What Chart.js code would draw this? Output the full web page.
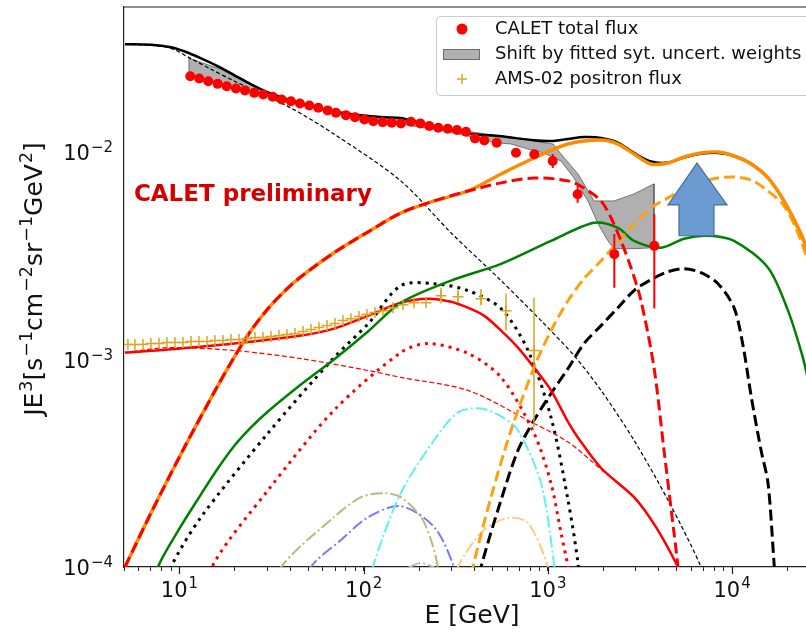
<!DOCTYPE html>
<html>
<head>
<meta charset="utf-8">
<script src="https://cdn.jsdelivr.net/npm/chart.js@4.4.1/dist/chart.umd.min.js"></script>
<style>
  html, body { margin: 0; padding: 0; background: #fff; overflow: hidden; }
  #wrap { width: 806px; height: 633px; overflow: hidden; }
  canvas { display: block; }
</style>
</head>
<body>
<div id="wrap"><canvas id="spectrum" width="830" height="633"></canvas></div>
<script>
// axis ranges and tick labels (base, exponent)
const xMin = 5, xMax = 3e4, yMin = 1e-4, yMax = 0.05;
const xMajorTicks = [10, 100, 1000, 10000];
const xMajorExp = ['1', '2', '3', '4'];
const yMajorTicks = [1e-4, 1e-3, 1e-2];
const yMajorExp = ['\u22124', '\u22123', '\u22122'];
const xTitle = 'E [GeV]';
// y title as [text, isSuperscript]
const yTitleParts = [['JE', 0], ['3', 1], ['[s', 0], ['\u22121', 1], ['cm', 0], ['\u22122', 1], ['sr', 0], ['\u22121', 1], ['GeV', 0], ['2', 1], [']', 0]];

// CALET total flux (E [GeV], E^3 J)
const calE = [11.45, 12.81, 14.33, 16.12, 18.04, 20.26, 22.68, 25.47, 28.50, 32.06, 35.87, 40.29, 45.10, 50.68, 56.70, 63.78,
  70.7, 80.1, 89.7, 100.8, 112.7, 126.8, 141.9, 159.4, 180.6, 202.9, 227.1, 254.1, 285.8, 321.0, 359.2, 401.9, 451.5,
  527.2, 671.2, 843.8, 1062, 1451, 2294, 3782];
const calJ = [0.02319, 0.02262, 0.02195, 0.02131, 0.02077, 0.02025, 0.01981, 0.01928, 0.01894, 0.01845, 0.01792, 0.01758, 0.01714, 0.01677, 0.01633, 0.01587,
  0.01545, 0.01506, 0.01473, 0.01436, 0.01409, 0.01394, 0.01383, 0.01374, 0.01398, 0.01374, 0.01334, 0.01309, 0.01294, 0.01276, 0.01252, 0.01164, 0.01138,
  0.01108, 0.00992, 0.00975, 0.00905, 0.00626, 0.00322, 0.00353];
const calErrE = [671.2, 843.8, 1062, 1451, 2294, 3782];
const calErrLo = [0.0095, 0.0093, 0.00838, 0.00569, 0.00222, 0.00176];
const calErrHi = [0.0104, 0.0102, 0.00978, 0.00686, 0.00403, 0.00503];

// AMS-02 positron flux
const amsE = [5.25, 5.73, 6.34, 7.00, 7.74, 8.55, 9.45, 10.45, 11.55, 12.76, 14.11, 15.58, 17.23, 19.04, 21.04, 23.26, 25.70, 28.40, 31.39, 34.69,
  38.33, 42.36, 46.83, 51.75, 57.19, 63.22, 69.86, 77.20, 85.34, 94.29, 104.2, 115.2, 127.3, 144.2, 163.5, 187.6, 217.9, 262.9, 325.1, 433.5, 592.3, 840.6];
const amsJ = [1.181e-3, 1.181e-3, 1.181e-3, 1.194e-3, 1.194e-3, 1.207e-3, 1.207e-3, 1.207e-3, 1.220e-3, 1.220e-3, 1.220e-3, 1.234e-3, 1.234e-3, 1.248e-3,
  1.248e-3, 1.262e-3, 1.276e-3, 1.276e-3, 1.290e-3, 1.304e-3, 1.319e-3, 1.334e-3, 1.364e-3, 1.394e-3, 1.425e-3, 1.457e-3, 1.490e-3, 1.540e-3,
  1.574e-3, 1.610e-3, 1.646e-3, 1.683e-3, 1.720e-3, 1.778e-3, 1.838e-3, 1.879e-3, 1.879e-3, 2.031e-3, 2.009e-3, 1.965e-3, 1.720e-3, 1.105e-3];
const amsErrE = [262.9, 325.1, 433.5, 592.3, 840.6];
const amsErrLo = [1.86e-3, 1.88e-3, 1.82e-3, 1.38e-3, 4.71e-4];
const amsErrHi = [2.22e-3, 2.19e-3, 2.19e-3, 2.08e-3, 1.99e-3];

// model curves, [E, E^3 J]
const totalModel = [[5.06, 0.0331], [7.0, 0.0329], [9.0, 0.0320], [10.6, 0.0306], [13.1, 0.0283], [16.2, 0.0259], [19.8, 0.0235], [24.5, 0.0212],
  [30.2, 0.0194], [36.9, 0.0182], [45.7, 0.0172], [56.5, 0.0163], [69.0, 0.0157], [85.3, 0.0152], [106, 0.0149], [129, 0.0147], [159, 0.0146],
  [241, 0.0133], [368, 0.0123], [557, 0.0119], [841, 0.0114], [1040, 0.0113], [1286, 0.01155], [1570, 0.0118], [1943, 0.0117], [2402, 0.0111],
  [2934, 0.0099], [3628, 0.0090], [4487, 0.0089], [5483, 0.0094], [6780, 0.0098], [8386, 0.0099], [10240, 0.0096], [12670, 0.0088],
  [15670, 0.0075], [19130, 0.0058], [23660, 0.0040], [28550, 0.0027]];
const orangeSolid = [[5.06, 1.0e-4], [7.0, 1.818e-4], [10.58, 3.734e-4], [16.18, 7.5e-4], [19.76, 1.022e-3], [24.45, 1.379e-3], [30.23, 1.758e-3],
  [36.93, 2.123e-3], [45.66, 2.506e-3], [69.0, 3.27e-3], [105.5, 4.12e-3], [159.4, 5.09e-3], [240.8, 5.81e-3], [368.4, 6.49e-3], [557, 7.84e-3],
  [841, 9.36e-3], [1286, 1.093e-2], [1943, 1.142e-2], [2402, 1.093e-2], [2934, 9.78e-3], [3628, 8.76e-3], [4487, 8.85e-3], [5483, 9.46e-3],
  [6780, 9.89e-3], [8386, 1.0e-2], [10240, 9.57e-3], [12670, 8.76e-3], [15670, 7.5e-3], [19130, 5.81e-3], [23660, 4.04e-3], [25510, 3.34e-3],
  [30380, 1.92e-3]];
const redDashed = [[5.06, 1.0e-4], [7.0, 1.818e-4], [10.58, 3.734e-4], [16.18, 7.5e-4], [19.76, 1.022e-3], [24.45, 1.379e-3], [30.23, 1.758e-3],
  [36.93, 2.123e-3], [45.66, 2.506e-3], [69.0, 3.27e-3], [105.5, 4.12e-3], [159.4, 5.09e-3], [240.8, 5.81e-3], [368.4, 6.49e-3], [557, 7.1e-3],
  [841, 7.5e-3], [1286, 7.26e-3], [1570, 6.71e-3], [1943, 5.81e-3], [2201, 4.82e-3], [2495, 3.73e-3], [2826, 2.77e-3], [3202, 1.92e-3],
  [3767, 9.15e-4], [4270, 3.65e-4], [4837, 1.46e-4], [5086, 1.0e-4], [5300, 7.0e-5]];
const orangeDashed = [[373, 7.75e-5], [392, 1.0e-4], [491, 2.17e-4], [631, 4.56e-4], [841, 9.15e-4], [1040, 1.379e-3], [1286, 1.92e-3],
  [1570, 2.452e-3], [1943, 2.99e-3], [2402, 3.69e-3], [2934, 4.51e-3], [3628, 5.38e-3], [4487, 6.01e-3], [5483, 6.64e-3], [6780, 7.17e-3],
  [8386, 7.5e-3], [10240, 7.58e-3], [12670, 7.33e-3], [14900, 6.71e-3], [19130, 5.5e-3], [23660, 3.73e-3], [28550, 2.15e-3]];
const greenSolid = [[7.27, 7.75e-5], [7.64, 1.0e-4], [9.81, 1.49e-4], [13.09, 2.24e-4], [16.18, 2.99e-4], [19.76, 3.82e-4], [24.45, 4.71e-4],
  [30.23, 5.62e-4], [45.66, 7.58e-4], [69.0, 1.0e-3], [105.5, 1.364e-3], [159.4, 1.879e-3], [298, 2.40e-3], [557, 2.89e-3], [1040, 3.73e-3],
  [1780, 4.56e-3], [2402, 4.31e-3], [2934, 3.73e-3], [4112, 3.46e-3], [5483, 3.82e-3], [7399, 3.95e-3], [10240, 3.73e-3], [15670, 2.77e-3],
  [20110, 1.72e-3], [23660, 1.1e-3], [25510, 8.4e-4], [28550, 5.1e-4]];
const thinBlackDashed = [[5.06, 0.0330], [7.0, 0.0327], [9.0, 0.0316], [11.55, 0.0282], [14.8, 0.0251], [19.8, 0.0220], [40.3, 0.0163],
  [69.0, 0.0122], [159, 7.26e-3], [298, 4.08e-3], [557, 2.40e-3], [918, 1.54e-3], [1386, 1.045e-3], [1943, 7.1e-4], [2934, 4.08e-4],
  [4487, 2.1e-4], [6780, 1.0e-4], [7685, 6.9e-5]];
const thinRedDashed = [[5.06, 1.08e-3], [8.66, 1.14e-3], [19.8, 1.105e-3], [45.7, 1.01e-3], [106, 8.85e-4], [159, 8.2e-4], [368, 7.1e-4],
  [780, 5.09e-4], [1286, 4.0e-4], [1943, 2.95e-4], [2934, 2.17e-4], [3863, 1.556e-4], [5086, 1.0e-4], [5500, 8.0e-5]];
const redSolid = [[5.06, 1.08e-3], [8.66, 1.117e-3], [19.8, 1.194e-3], [45.7, 1.304e-3], [69.0, 1.409e-3], [106, 1.627e-3], [159, 1.879e-3],
  [223, 1.965e-3], [298, 1.90e-3], [368, 1.778e-3], [450, 1.627e-3], [557, 1.379e-3], [688, 1.142e-3], [841, 9.15e-4], [1040, 7.1e-4],
  [1286, 5.0e-4], [1457, 4.2e-4], [1943, 3.0e-4], [2934, 2.17e-4], [3863, 1.556e-4], [5086, 1.0e-4], [5763, 7.75e-5]];
const redDotted = [[14.8, 7.75e-5], [15.4, 1.045e-4], [30.2, 2.34e-4], [69.0, 5.69e-4], [159, 1.08e-3], [223, 1.194e-3], [368, 1.07e-3],
  [557, 8.2e-4], [841, 4.41e-4], [1040, 2.53e-4], [1178, 1.46e-4], [1286, 1.0e-4], [1335, 7.75e-5]];
const blackDotted = [[8.66, 8.2e-5], [8.99, 1.0e-4], [13.1, 1.74e-4], [30.2, 4.41e-4], [69.0, 1.02e-3], [106, 1.49e-3], [159, 2.27e-3],
  [241, 2.32e-3], [368, 2.15e-3], [557, 1.758e-3], [780, 1.105e-3], [1040, 5.26e-4], [1286, 2.1e-4], [1457, 1.045e-4], [1490, 7.75e-5]];
const blackDashed = [[412, 7.75e-5], [433.5, 1.0e-4], [556.5, 2.10e-4], [688, 3.65e-4], [840.6, 5.09e-4], [1040, 6.86e-4], [1286, 9.05e-4],
  [1570, 1.194e-3], [1943, 1.457e-3], [2402, 1.778e-3], [2934, 2.15e-3], [3628, 2.425e-3], [4487, 2.65e-3], [5483, 2.74e-3], [6780, 2.62e-3],
  [8386, 2.32e-3], [10240, 1.778e-3], [11460, 1.167e-3], [12670, 6.71e-4], [14360, 3.65e-4], [15670, 2.53e-4], [16890, 1.045e-4], [17310, 7.75e-5]];
const cyanDashDot = [[108, 7.75e-5], [112, 1.0e-4], [159, 2.27e-4], [241, 4.08e-4], [325, 5.56e-4], [433.5, 5.81e-4], [557, 5.32e-4],
  [688, 4.56e-4], [918, 2.53e-4], [1079, 1.045e-4], [1107, 7.75e-5]];
const khakiDashDot = [[34.3, 7.75e-5], [35.6, 1.0e-4], [69.0, 1.74e-4], [96.7, 2.17e-4], [129, 2.27e-4], [159, 2.17e-4], [205, 1.74e-4],
  [232, 1.35e-4], [253, 1.0e-4], [262, 7.75e-5]];
const blueDashDot = [[50, 7.75e-5], [51.75, 1.0e-4], [75.3, 1.348e-4], [106, 1.74e-4], [159, 1.965e-4], [241, 1.56e-4], [309, 1.0e-4], [320, 7.75e-5]];
const peachDashDot = [[318, 7.75e-5], [325, 1.0e-4], [450, 1.51e-4], [607, 1.72e-4], [780, 1.63e-4], [1001, 1.0e-4], [1030, 7.75e-5]];
const greyDashDot = [[176, 1.0e-4], [205, 1.045e-4], [241, 1.0e-4]];

// systematic-shift band (upper edge left to right, lower edge right to left)
const bandUpper = [[11.26, 0.02831], [16.8, 0.02506], [24.45, 0.0210], [35.56, 0.01838], [51.75, 0.01683], [75.33, 0.01557], [159.4, 0.01441],
  [297.8, 0.0129], [556.5, 0.01194], [840.6, 0.01129], [1066, 0.01093], [1178, 0.00978], [1457, 0.00784], [1780, 0.00581], [2285, 0.00581],
  [2934, 0.00628], [3767, 0.00702]];
const bandLower = [[3767, 0.00346], [2934, 0.00342], [2285, 0.00342], [2120, 0.00373], [1871, 0.00451], [1651, 0.00581], [1386, 0.0075],
  [1178, 0.00905], [952, 0.00989], [779.8, 0.01034], [630.6, 0.01093], [527, 0.01108], [297.8, 0.01248], [159.4, 0.01363], [75.33, 0.01506],
  [51.75, 0.01646], [35.56, 0.01778], [24.45, 0.01965], [16.8, 0.02146], [11.26, 0.02345]];

// up arrow annotation, outline in data coordinates
const arrowShape = [[5149, 0.00395], [5149, 0.00556], [4487, 0.00556], [6448, 0.00885], [9382, 0.00556], [7975, 0.00556], [7975, 0.00395], [5149, 0.00395]];

const prelimText = 'CALET preliminary';
const prelimAt = [5.66, 0.00581];
const legendLabels = ['CALET total flux', 'Shift by fitted syt. uncert. weights', 'AMS-02 positron flux'];

const bandFill = 'rgba(128,128,128,0.62)';
const bandEdge = 'rgba(90,90,90,0.8)';
const FONT = '"DejaVu Sans", sans-serif';

function pts(list) {
  return list.map(([x, y]) => ({ x, y }));
}

function errorBars(xs, lo, hi) {
  const out = [];
  xs.forEach((x, i) => {
    out.push({ x, y: lo[i] }, { x, y: hi[i] }, { x, y: null });
  });
  return out;
}

function curve(list, color, width, dash, order) {
  return {
    data: pts(list),
    borderColor: color,
    borderWidth: width,
    borderDash: dash,
    pointRadius: 0,
    fill: false,
    tension: 0.3,
    clip: 0,
    order: order
  };
}

// draw text runs with matplotlib-like superscripts, baseline at y, starting at x
function runsWidth(ctx, parts, size, supSize) {
  let w = 0;
  parts.forEach(([t, sup]) => {
    ctx.font = (sup ? supSize : size) + 'px ' + FONT;
    w += ctx.measureText(t).width + (sup ? 1 : 0);
  });
  return w;
}
function drawRuns(ctx, parts, x, y, size, supSize, rise) {
  let cx = x;
  parts.forEach(([t, sup]) => {
    ctx.font = (sup ? supSize : size) + 'px ' + FONT;
    ctx.fillText(t, cx + (sup ? 1 : 0), sup ? y - rise : y);
    cx += ctx.measureText(t).width + (sup ? 1 : 0);
  });
}

// x ticks: decades as major marks, 2..9 as minor marks
const xTickValues = [];
[1, 10, 100, 1000, 10000].forEach(d => {
  for (let m = 1; m <= 9; m++) {
    const v = m * d;
    if (v >= xMin && v <= xMax) xTickValues.push(v);
  }
});

// tick labels, axis title, annotations, legend and top spine
const overlay = {
  id: 'overlay',
  afterDraw(chart) {
    const { ctx, chartArea: a, scales } = chart;
    const xs = scales.x, ys = scales.y;
    ctx.save();

    ctx.strokeStyle = '#222';
    ctx.lineWidth = 1.2;
    ctx.beginPath();
    ctx.moveTo(a.left, a.top);
    ctx.lineTo(a.right, a.top);
    ctx.lineTo(a.right, a.bottom);
    // longer marks for the labelled decades
    xMajorTicks.forEach(v => {
      const px = Math.round(xs.getPixelForValue(v)) + 0.5;
      ctx.moveTo(px, a.bottom);
      ctx.lineTo(px, a.bottom + 7);
    });
    ctx.stroke();

    // tick labels
    ctx.fillStyle = '#111';
    ctx.textBaseline = 'alphabetic';
    ctx.textAlign = 'left';
    xMajorTicks.forEach((v, i) => {
      const parts = [['10', 0], [xMajorExp[i], 1]];
      const w = runsWidth(ctx, parts, 21, 15);
      drawRuns(ctx, parts, xs.getPixelForValue(v) - w / 2, a.bottom + 30, 21, 15, 9);
    });
    yMajorTicks.forEach((v, i) => {
      const parts = [['10', 0], [yMajorExp[i], 1]];
      const w = runsWidth(ctx, parts, 21, 15);
      drawRuns(ctx, parts, a.left - 11 - w, ys.getPixelForValue(v) + 8, 21, 15, 8);
    });

    // y axis title, rotated
    ctx.save();
    ctx.translate(42, (a.top + a.bottom) / 2 - 8);
    ctx.rotate(-Math.PI / 2);
    const tw = runsWidth(ctx, yTitleParts, 25, 17.5);
    drawRuns(ctx, yTitleParts, -tw / 2, 0, 25, 17.5, 10);
    ctx.restore();

    ctx.fillStyle = '#d40000';
    ctx.font = 'bold 23px ' + FONT;
    ctx.fillText(prelimText, xs.getPixelForValue(prelimAt[0]), ys.getPixelForValue(prelimAt[1]));

    // legend box
    const lx = a.right - 384, ly = a.top + 9, lw = 400, lh = 79;
    ctx.fillStyle = 'rgba(255,255,255,0.85)';
    ctx.strokeStyle = '#cccccc';
    ctx.lineWidth = 1;
    ctx.beginPath();
    ctx.roundRect(lx + 0.5, ly + 0.5, lw, lh, 4);
    ctx.fill();
    ctx.stroke();

    const mx = lx + 26;
    const rows = [ly + 13, ly + 38, ly + 63];
    ctx.fillStyle = 'red';
    ctx.beginPath();
    ctx.arc(mx, rows[0], 5.5, 0, Math.PI * 2);
    ctx.fill();

    ctx.fillStyle = bandFill;
    ctx.strokeStyle = bandEdge;
    ctx.fillRect(lx + 7, rows[1] - 5, 37, 11);
    ctx.strokeRect(lx + 7.5, rows[1] - 4.5, 36, 10);

    ctx.strokeStyle = 'goldenrod';
    ctx.lineWidth = 1.5;
    ctx.beginPath();
    ctx.moveTo(mx - 5, rows[2]); ctx.lineTo(mx + 5, rows[2]);
    ctx.moveTo(mx, rows[2] - 5); ctx.lineTo(mx, rows[2] + 5);
    ctx.stroke();

    ctx.fillStyle = '#111';
    ctx.font = '18px ' + FONT;
    ctx.textBaseline = 'middle';
    legendLabels.forEach((t, i) => ctx.fillText(t, lx + 59, rows[i]));
    ctx.restore();
  }
};

Chart.defaults.font.family = FONT;
Chart.defaults.color = '#111';

const datasets = [
  { data: pts(calE.map((e, i) => [e, calJ[i]])), showLine: false, pointRadius: 5, pointBackgroundColor: 'red',
    pointBorderWidth: 0, borderColor: 'red', order: 0 },
  { data: errorBars(calErrE, calErrLo, calErrHi), borderColor: 'red', borderWidth: 2, pointRadius: 0, order: 1 },
  { data: pts(amsE.map((e, i) => [e, amsJ[i]])), showLine: false, pointStyle: 'cross', pointRadius: 5.5,
    pointBorderWidth: 1.5, pointBorderColor: 'goldenrod', borderColor: 'goldenrod', order: 2 },
  { data: errorBars(amsErrE, amsErrLo, amsErrHi), borderColor: 'goldenrod', borderWidth: 1.5, pointRadius: 0, order: 3 },
  { data: pts(arrowShape), fill: 'shape', backgroundColor: '#6c9bd2', borderColor: '#41719c', borderWidth: 1.2,
    pointRadius: 0, tension: 0, order: 4 },
  curve(redDashed, 'red', 3, [11, 5], 5),
  curve(orangeSolid, '#ff8c00', 3.5, [], 6),
  curve(orangeDashed, '#ffa010', 3, [11, 5], 7),
  curve(totalModel, '#000', 2.5, [], 8),
  curve(greenSolid, '#008000', 2.5, [], 9),
  curve(redSolid, 'red', 2.5, [], 10),
  curve(thinRedDashed, 'red', 1.2, [5, 2.5], 11),
  curve(redDotted, 'red', 3, [3, 5], 12),
  curve(blackDotted, '#000', 3, [3, 5], 13),
  curve(blackDashed, '#000', 3, [11, 5], 14),
  curve(thinBlackDashed, '#000', 1.2, [4, 2.5], 15),
  curve(cyanDashDot, '#5ff0f0', 2, [12, 3, 2, 3], 16),
  curve(khakiDashDot, '#bcb77a', 2, [12, 3, 2, 3], 17),
  curve(blueDashDot, '#7878ff', 2, [12, 3, 2, 3], 18),
  curve(peachDashDot, '#fcc98a', 2, [12, 3, 2, 3], 19),
  curve(greyDashDot, '#c0c0c0', 2, [12, 3, 2, 3], 20),
  { data: pts(bandUpper.concat(bandLower, [bandUpper[0]])), fill: 'shape', backgroundColor: bandFill, borderColor: bandEdge,
    borderWidth: 1, pointRadius: 0, tension: 0, order: 21 }
];

new Chart(document.getElementById('spectrum'), {
  type: 'line',
  data: { datasets: datasets },
  options: {
    responsive: false,
    animation: false,
    events: [],
    layout: { padding: { top: 5, right: 10, left: 0, bottom: 0 } },
    plugins: { legend: { display: false }, tooltip: { enabled: false } },
    scales: {
      x: {
        type: 'logarithmic',
        min: xMin,
        max: xMax,
        afterBuildTicks: s => { s.ticks = xTickValues.map(v => ({ value: v })); },
        afterFit: s => { s.height = 66; s.paddingLeft = 0; s.paddingRight = 0; },
        ticks: { autoSkip: false, maxRotation: 0, padding: 5, font: { size: 21 }, callback: () => '' },
        grid: { drawOnChartArea: false, drawTicks: true, tickLength: 4, tickColor: '#222' },
        border: { color: '#222', width: 1.2 },
        title: { display: true, text: xTitle, font: { size: 25 }, color: '#111', padding: { top: 0, bottom: 2 } }
      },
      y: {
        type: 'logarithmic',
        min: yMin,
        max: yMax,
        afterBuildTicks: s => { s.ticks = yMajorTicks.map(v => ({ value: v })); },
        afterFit: s => { s.width = 124; s.paddingTop = 0; s.paddingBottom = 0; },
        ticks: { display: false },
        grid: { drawOnChartArea: false, drawTicks: false },
        border: { color: '#222', width: 1.2 }
      }
    }
  },
  plugins: [overlay]
});
</script>
</body>
</html>
